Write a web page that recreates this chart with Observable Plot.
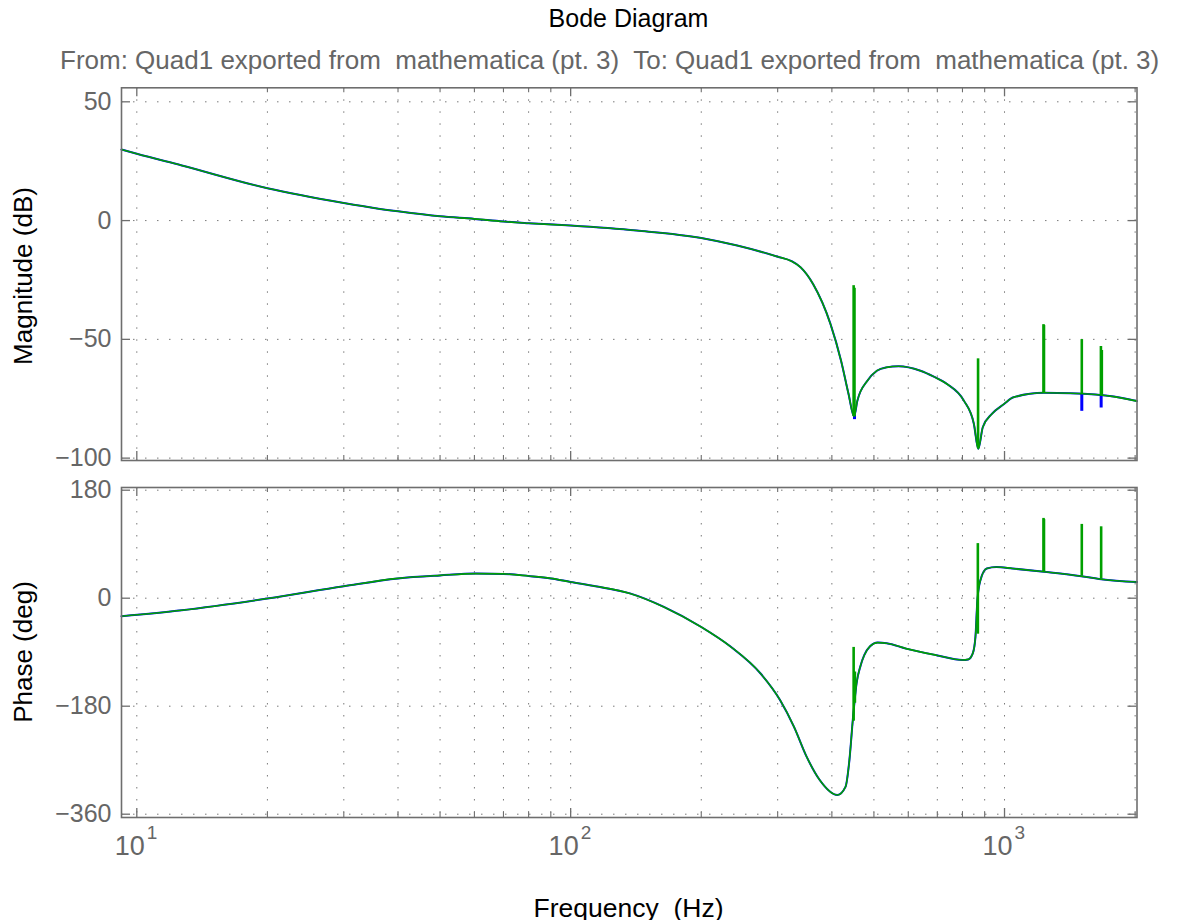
<!DOCTYPE html>
<html>
<head>
<meta charset="utf-8">
<script src="https://cdn.jsdelivr.net/npm/d3@7"></script>
<script src="https://cdn.jsdelivr.net/npm/@observablehq/plot@0.6"></script>
<style>
  html, body { margin: 0; padding: 0; background: #fff; }
  body { width: 1203px; height: 920px; overflow: hidden; position: relative;
         font-family: "Liberation Sans", Arial, Helvetica, sans-serif; }
  .txt { position: absolute; white-space: pre; line-height: 1; font-size: 25px; }
  .rot { transform: translate(-50%, -50%) rotate(-90deg); color: #000; font-size: 26px; }
  .plotbox { position: absolute; left: 0; }
</style>
</head>
<body>
<div class="txt" id="title" style="left:121px; width:1015px; top:6px; text-align:center; color:#000;"></div>
<div class="txt" id="subtitle" style="left:60px; top:47px; color:#666; font-size:26px;"></div>
<div class="txt rot" id="ylab1" style="left:23px; top:276px;"></div>
<div class="txt rot" id="ylab2" style="left:23px; top:652px;"></div>
<div class="txt" id="xlab" style="left:121px; width:1015px; top:895px; text-align:center; color:#000; font-size:26.5px;"></div>
<div class="plotbox" id="p1" style="top:80px;"></div>
<div class="plotbox" id="p2" style="top:480px;"></div>
<script>
// ---------------- texts ----------------
const titleText = "Bode Diagram";
const subtitleText = "From: Quad1 exported from  mathematica (pt. 3)  To: Quad1 exported from  mathematica (pt. 3)";
const magLabel = "Magnitude (dB)";
const phaseLabel = "Phase (deg)";
const freqLabel = "Frequency  (Hz)";

// ---------------- axes ----------------
const xDomain = [9.22, 2020];
const xMajorTicks = [10, 100, 1000];
const xMinorTicks = [20, 30, 40, 50, 60, 70, 80, 90, 200, 300, 400, 500, 600, 700, 800, 900, 2000];
const xTickBase = ["10", "10", "10"];
const xTickExp = ["1", "2", "3"];
const magTicks = [50, 0, -50, -100];
const phaseTicks = [180, 0, -180, -360];
const magDomain = [-101, 55.9];
const phaseDomain = [-365.5, 184.5];

// ---------------- magnitude (both systems share this curve) ----------------
const magFreq = [9.22, 10, 12.7, 20, 30, 35.5, 40, 50, 60, 70, 80, 100, 142, 200, 242, 300, 323, 339, 362, 397, 420, 437, 450, 458, 483, 508, 534, 570, 640, 687, 737, 806, 850, 870, 891, 935, 998, 1049, 1232, 1418, 1786, 2020];
const magDb   = [29.9, 28.1, 23.2, 13.6, 7.4, 5.2, 3.9, 1.8, 0.7, -0.4, -1.1, -2.1, -4.2, -7.3, -10.5, -15.2, -17.1, -19.7, -26.7, -43.5, -59, -73, -82.5, -75.8, -67.4, -63.2, -61.8, -61.3, -63.2, -65.7, -68.8, -75.8, -85.6, -96.1, -87, -81.4, -77.2, -74.4, -72.5, -72.7, -74.1, -76];

// green spikes (magnitude)
const magSpikeFreq = [449, 451, 869, 1230, 1233, 1507, 1668, 1676];
const magSpikeBase = [-82.5, -82.5, -96, -72.5, -72.5, -72.8, -73.6, -73.8];
const magSpikeTop  = [-27.4, -28.5, -58.2, -43.8, -44.2, -50.1, -53, -54.7];
// blue dips (magnitude)
const blueDipFreq   = [451, 1507, 1670];
const blueDipBase   = [-82, -72.8, -73.6];
const blueDipBottom = [-83.8, -80.3, -78.9];

// ---------------- phase ----------------
const phaseFreq = [9.22, 12.7, 20, 30, 40, 50, 60.5, 70, 80, 90, 100, 114, 137, 164, 200, 234, 274, 304, 327, 350, 375, 412, 430, 439, 447, 456, 466, 475, 490, 510, 535, 593, 697, 800, 825, 845, 857, 866, 880, 910, 958, 1043, 1233, 1503, 1670, 2020];
const phaseDeg  = [-30, -20, -0.5, 20, 33, 38, 41, 40.5, 37, 33, 27, 20, 8, -14.5, -48, -81, -125.5, -170, -214, -264.5, -303, -328, -314.5, -270, -203, -142, -112, -95, -80, -74, -75, -84, -95, -103, -102, -92, -64.5, -3, 30, 49.5, 52, 49.5, 44, 36.7, 31.7, 27];
const phaseSpikeFreq = [449, 452, 868, 1230, 1233, 1507, 1670];
const phaseSpikeBase = [-205, -175, -60, 44, 44, 36.7, 31.7];
const phaseSpikeTop  = [-82, -123, 91, 133, 131, 123, 119];

// ---------------- build tables ----------------
const magTable = magFreq.map((f, i) => ({f, v: magDb[i]}));
const phaseTable = phaseFreq.map((f, i) => ({f, v: phaseDeg[i]}));
const magSpikes = magSpikeFreq.map((f, i) => ({f, a: magSpikeBase[i], b: magSpikeTop[i]}));
const blueDips = blueDipFreq.map((f, i) => ({f, a: blueDipBase[i], b: blueDipBottom[i]}));
const phaseSpikes = phaseSpikeFreq.map((f, i) => ({f, a: phaseSpikeBase[i], b: phaseSpikeTop[i]}));
const xLabels = xMajorTicks.map((f, i) => ({f, base: xTickBase[i], exp: xTickExp[i]}));

const BLUE = "#0000ff", GREEN = "#00a000", FRAME = "#6e6e6e", GRID = "#7a7a7a", TXT = "#666";
const W = 1203, ML = 121, MR = 1203 - 1136.5;
const innerW = W - ML - MR;
const majorLen = 9, minorLen = 5;
const xGrid = [...xMajorTicks, ...xMinorTicks];

function panel({height, mt, mb, yDomain, yTicks, table, spikes, dips, withXLabels}) {
  const innerH = height - mt - mb;
  const marks = [
    Plot.ruleX(xGrid, {x: d => d, stroke: GRID, strokeWidth: 1, strokeDasharray: "1.5,10.5"}),
    Plot.ruleY(yTicks, {y: d => d, stroke: GRID, strokeWidth: 1, strokeDasharray: "1.5,10.5"}),
    Plot.line(table, {x: "f", y: "v", stroke: BLUE, strokeWidth: 2, curve: "monotone-x"})
  ];
  if (dips) marks.push(Plot.ruleX(dips, {x: "f", y1: "a", y2: "b", stroke: BLUE, strokeWidth: 3}));
  marks.push(
    Plot.line(table, {x: "f", y: "v", stroke: GREEN, strokeWidth: 1.6, curve: "monotone-x"}),
    Plot.ruleX(spikes, {x: "f", y1: "a", y2: "b", stroke: GREEN, strokeWidth: 2.6}),
    Plot.tickY(yTicks, {y: d => d, stroke: FRAME, strokeWidth: 1.3, insetRight: innerW - majorLen}),
    Plot.tickY(yTicks, {y: d => d, stroke: FRAME, strokeWidth: 1.3, insetLeft: innerW - majorLen}),
    Plot.tickX(xMajorTicks, {x: d => d, stroke: FRAME, strokeWidth: 1.3, insetTop: innerH - majorLen}),
    Plot.tickX(xMajorTicks, {x: d => d, stroke: FRAME, strokeWidth: 1.3, insetBottom: innerH - majorLen}),
    Plot.tickX(xMinorTicks, {x: d => d, stroke: FRAME, strokeWidth: 1.1, insetTop: innerH - minorLen}),
    Plot.tickX(xMinorTicks, {x: d => d, stroke: FRAME, strokeWidth: 1.1, insetBottom: innerH - minorLen}),
    Plot.frame({stroke: FRAME, strokeWidth: 1.6}),
    Plot.axisY({ticks: yTicks, tickSize: 0, tickPadding: 10, fontSize: 25, label: null,
                tickFormat: d => d < 0 ? "\u2212" + Math.abs(d) : String(d)})
  );
  if (withXLabels) {
    marks.push(
      Plot.text(xLabels, {x: "f", text: "base", frameAnchor: "bottom", dy: 37, dx: 8, textAnchor: "end", fontSize: 27, fill: TXT}),
      Plot.text(xLabels, {x: "f", text: "exp", frameAnchor: "bottom", dy: 21, dx: 10, textAnchor: "start", fontSize: 19, fill: TXT})
    );
  }
  return Plot.plot({
    width: W, height,
    marginLeft: ML, marginRight: MR, marginTop: mt, marginBottom: mb,
    x: {type: "log", domain: xDomain, axis: null},
    y: {domain: yDomain, axis: null},
    style: {background: "transparent", color: TXT, fontFamily: '"Liberation Sans", Arial, sans-serif', overflow: "visible"},
    marks
  });
}

document.getElementById("p1").appendChild(panel({
  height: 388, mt: 7.3, mb: 8, yDomain: magDomain, yTicks: magTicks,
  table: magTable, spikes: magSpikes, dips: blueDips, withXLabels: false
}));
document.getElementById("p2").appendChild(panel({
  height: 397, mt: 7, mb: 60, yDomain: phaseDomain, yTicks: phaseTicks,
  table: phaseTable, spikes: phaseSpikes, dips: null, withXLabels: true
}));

document.getElementById("title").textContent = titleText;
document.getElementById("subtitle").textContent = subtitleText;
document.getElementById("ylab1").textContent = magLabel;
document.getElementById("ylab2").textContent = phaseLabel;
document.getElementById("xlab").textContent = freqLabel;
</script>
</body>
</html>
